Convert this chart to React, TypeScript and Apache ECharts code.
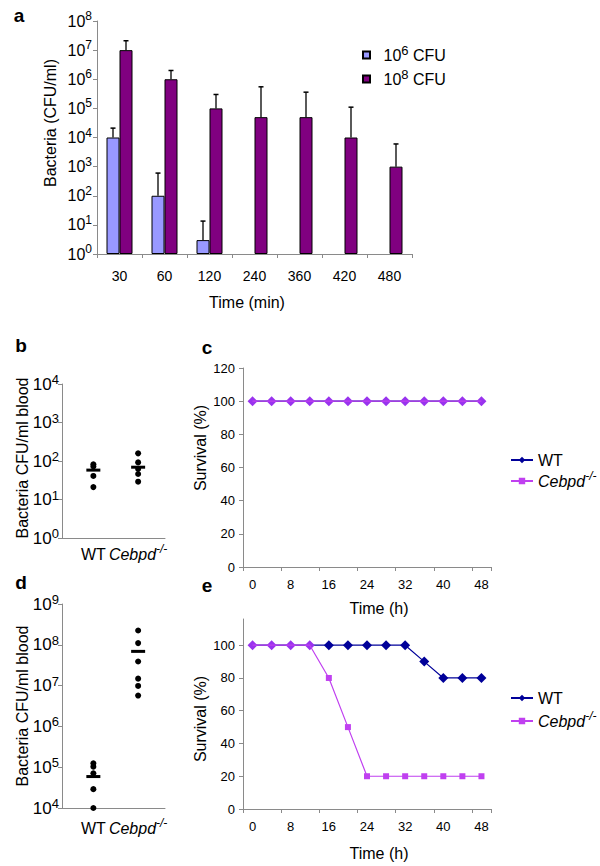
import React, { useEffect, useRef } from 'react';
import * as echarts from 'echarts';

const FONT = '"Liberation Sans", Arial, sans-serif';

// ---------- Panel a ----------
const timesMin = ['30', '60', '120', '240', '360', '420', '480'];
const cfu6Mean = [1e4, 100, 3, null, null, null, null];
const cfu6Upper = [2.1e4, 600, 13.5, null, null, null, null];
const cfu8Mean = [1e7, 1e6, 1e5, 5e4, 5e4, 1e4, 1e3];
const cfu8Upper = [2.1e7, 2e6, 3e5, 5.5e5, 3.6e5, 1.1e5, 6e3];
const seriesNamesA = ['10^6 CFU', '10^8 CFU'];

// ---------- Panels b & d ----------
const groups = ['WT', 'Cebpd-/-'];
const bWT = [82, 72, 41, 21];
const bKO = [158, 92, 62, 46, 29];
const bMeans = [58, 69];
const dWT = [1.25e5, 1.03e5, 7.1e4, 2.9e4, 1e4];
const dKO = [2.24e8, 1.1e8, 3.9e7, 1.48e7, 9.8e6, 5.7e6];
const dMeans = [5.9e4, 6.9e7];

// ---------- Panels c & e ----------
const timesH = ['0', '4', '8', '12', '16', '20', '24', '28', '32', '36', '40', '44', '48'];
const cWT = [100, 100, 100, 100, 100, 100, 100, 100, 100, 100, 100, 100, 100];
const cKO = [100, 100, 100, 100, 100, 100, 100, 100, 100, 100, 100, 100, 100];
const eWT = [100, 100, 100, 100, 100, 100, 100, 100, 100, 90, 80, 80, 80];
const eKO = [100, 100, 100, 100, 80, 50, 20, 20, 20, 20, 20, 20, 20];
const survivalTicks = [0, 20, 40, 60, 80, 100];

const BLUE = '#9999FF';
const PURPLE = '#800080';
const NAVY = '#000099';
const KO_COLOR = '#C040F0';
const OVERLAP = '#9933EE';
const AXIS_GRAY = '#8a8a8a';
const BAR_W = 13;

const richSup = (base: number, sup: number) => ({
  b: { fontSize: base, lineHeight: 22, fontFamily: FONT, color: '#000' },
  s: { fontSize: sup, lineHeight: sup, verticalAlign: 'top', fontFamily: FONT, color: '#000' },
  w: { fontSize: 16, lineHeight: 22, fontFamily: FONT, color: '#000' },
  i: { fontSize: 16, lineHeight: 22, fontStyle: 'italic', fontFamily: FONT, color: '#000' },
  si: { fontSize: 12, lineHeight: 12, verticalAlign: 'top', fontStyle: 'italic', fontFamily: FONT, color: '#000' },
});

const powLabel = (v: number) => `{b|10}{s|${Math.round(Math.log10(v))}}`;
const groupLabel = (name: string) => (name === 'WT' ? '{w|WT}' : '{i|Cebpd}{si|-/-}');

const errorBarRenderer = (offset: number) => (params: any, api: any) => {
  const x = api.value(0);
  const p1 = api.coord([x, api.value(1)]);
  const p2 = api.coord([x, api.value(2)]);
  const cx = p1[0] + offset;
  return {
    type: 'group',
    children: [
      { type: 'line', shape: { x1: cx, y1: p1[1], x2: cx, y2: p2[1] }, style: { stroke: '#000', lineWidth: 1.3 } },
      { type: 'line', shape: { x1: cx - 2.5, y1: p2[1], x2: cx + 2.5, y2: p2[1] }, style: { stroke: '#000', lineWidth: 1.5 } },
    ],
  };
};

const errData = (means: (number | null)[], uppers: (number | null)[]) =>
  means
    .map((m, i) => (m == null || uppers[i] == null ? null : [i, m, uppers[i]]))
    .filter((d) => d !== null);

const axisLine = { show: true, lineStyle: { color: AXIS_GRAY, width: 1 } };
const axisTick = { show: true, length: 4, lineStyle: { color: AXIS_GRAY } };

const survivalSeries = (wt: number[], ko: number[], xi: number) => {
  const wtData = wt.map((v, i) => (v === ko[i] ? { value: v, itemStyle: { color: OVERLAP } } : v));
  const koData = ko.map((v, i) => (v === wt[i] ? { value: v, symbol: 'none' } : v));
  return [
    {
      name: 'WT',
      type: 'line',
      xAxisIndex: xi,
      yAxisIndex: xi,
      data: wtData,
      symbol: 'diamond',
      symbolSize: 10,
      itemStyle: { color: NAVY },
      lineStyle: { color: NAVY, width: 1.2 },
      z: 2,
    },
    {
      name: 'Cebpd-/-',
      type: 'line',
      xAxisIndex: xi,
      yAxisIndex: xi,
      data: koData,
      symbol: 'rect',
      symbolSize: 6,
      itemStyle: { color: KO_COLOR },
      lineStyle: { color: KO_COLOR, width: 1.2 },
      z: 3,
    },
  ];
};

const scatterSeries = (wt: number[], ko: number[], means: number[], xi: number) => [
  {
    type: 'scatter',
    xAxisIndex: xi,
    yAxisIndex: xi,
    data: [...wt.map((v) => [1, v]), ...ko.map((v) => [2, v])],
    symbol: 'circle',
    symbolSize: 6,
    itemStyle: { color: '#000', opacity: 1 },
  },
  {
    type: 'scatter',
    xAxisIndex: xi,
    yAxisIndex: xi,
    data: means.map((v, i) => [i + 1, v]),
    symbol: 'rect',
    symbolSize: [14, 3],
    itemStyle: { color: '#000', opacity: 1 },
    z: 3,
  },
];

const groupXAxis = (gridIndex: number, margin: number) => ({
  type: 'value',
  gridIndex,
  min: 0.3,
  max: 2.6,
  axisLine,
  axisTick: { show: false },
  splitLine: { show: false },
  axisLabel: {
    customValues: [1, 2],
    margin,
    formatter: (v: number) => groupLabel(groups[Math.round(v) - 1]),
    rich: richSup(16, 12),
  },
});

const logYAxis = (gridIndex: number, min: number, max: number, base: number, sup: number, margin: number, split: number) => ({
  type: 'log',
  logBase: 10,
  gridIndex,
  min,
  max,
  splitNumber: split,
  axisLine,
  axisTick,
  splitLine: { show: false },
  axisLabel: { formatter: powLabel, rich: richSup(base, sup), margin },
});

const timeXAxis = (gridIndex: number) => ({
  type: 'category',
  gridIndex,
  data: timesH,
  boundaryGap: true,
  axisLine,
  axisTick,
  splitLine: { show: false },
  axisLabel: { interval: 1, fontSize: 13, color: '#000', fontFamily: FONT, margin: 11 },
});

const labelText = (text: string, x: number, y: number, size: number, rotate = false, bold = false) => ({
  type: 'text',
  x,
  y,
  rotation: rotate ? Math.PI / 2 : 0,
  style: {
    text,
    fill: '#000',
    fontSize: size,
    fontWeight: bold ? 'bold' : 'normal',
    fontFamily: FONT,
    align: 'center',
    verticalAlign: 'middle',
  },
});

export default function App() {
  const ref = useRef<HTMLDivElement>(null);
  useEffect(() => {
    if (!ref.current) return;
    const chart = echarts.init(ref.current, null, { renderer: 'svg' });
    const option: any = {
      animation: false,
      backgroundColor: '#fff',
      textStyle: { fontFamily: FONT },
      grid: [
        { left: 97, top: 21, width: 315, height: 233, containLabel: false, outerBoundsMode: 'none' },
        { left: 62, top: 384, width: 103, height: 154, containLabel: false, outerBoundsMode: 'none' },
        { left: 243, top: 368, width: 248, height: 199, containLabel: false, outerBoundsMode: 'none' },
        { left: 62, top: 604, width: 103, height: 204, containLabel: false, outerBoundsMode: 'none' },
        { left: 243, top: 619, width: 248, height: 190, containLabel: false, outerBoundsMode: 'none' },
      ],
      xAxis: [
        {
          type: 'category',
          gridIndex: 0,
          data: timesMin,
          boundaryGap: true,
          axisLine,
          axisTick,
          splitLine: { show: false },
          axisLabel: { fontSize: 14, color: '#000', fontFamily: FONT, margin: 15 },
        },
        groupXAxis(1, 5),
        timeXAxis(2),
        groupXAxis(3, 9),
        timeXAxis(4),
      ],
      yAxis: [
        logYAxis(0, 1, 1e8, 16, 12, 5, 8),
        logYAxis(1, 1, 1e4, 17, 13, 3, 4),
        {
          type: 'value',
          gridIndex: 2,
          min: 0,
          max: 120,
          interval: 20,
          axisLine,
          axisTick,
          splitLine: { show: false },
          axisLabel: { fontSize: 13, color: '#000', fontFamily: FONT, margin: 8 },
        },
        logYAxis(3, 1e4, 1e9, 17, 13, 3, 5),
        {
          type: 'value',
          gridIndex: 4,
          min: 0,
          max: 116,
          axisLine,
          axisTick: { ...axisTick, customValues: survivalTicks },
          splitLine: { show: false },
          axisLabel: { fontSize: 13, color: '#000', fontFamily: FONT, margin: 8, customValues: survivalTicks },
        },
      ],
      legend: [
        {
          data: seriesNamesA,
          left: 357,
          top: 39,
          orient: 'vertical',
          itemWidth: 24,
          itemHeight: 7,
          itemGap: 5,
          icon: 'path://M0,0L10,0L10,10L0,10Z',
          formatter: (n: string) => `{b|10}{s|${n === seriesNamesA[0] ? 6 : 8}}{b| CFU}`,
          textStyle: { rich: richSup(16, 13) },
          selectedMode: false,
        },
        {
          data: ['WT', 'Cebpd-/-'],
          left: 505,
          top: 447,
          orient: 'vertical',
          itemWidth: 22,
          itemHeight: 8,
          itemGap: 2,
          formatter: (n: string) => groupLabel(n),
          textStyle: { rich: richSup(16, 12) },
          selectedMode: false,
        },
        {
          data: ['WT', 'Cebpd-/-'],
          left: 505,
          top: 685,
          orient: 'vertical',
          itemWidth: 22,
          itemHeight: 8,
          itemGap: 4,
          formatter: (n: string) => groupLabel(n),
          textStyle: { rich: richSup(16, 12) },
          selectedMode: false,
        },
      ],
      series: [
        {
          name: seriesNamesA[0],
          type: 'bar',
          xAxisIndex: 0,
          yAxisIndex: 0,
          data: cfu6Mean.map((v) => (v == null ? '-' : v)),
          barWidth: BAR_W,
          barGap: '0%',
          itemStyle: { color: BLUE, borderColor: '#000', borderWidth: 1 },
        },
        {
          name: seriesNamesA[1],
          type: 'bar',
          xAxisIndex: 0,
          yAxisIndex: 0,
          data: cfu8Mean,
          barWidth: BAR_W,
          barGap: '0%',
          itemStyle: { color: PURPLE, borderColor: '#000', borderWidth: 1 },
        },
        {
          type: 'custom',
          xAxisIndex: 0,
          yAxisIndex: 0,
          renderItem: errorBarRenderer(-BAR_W / 2),
          data: errData(cfu6Mean, cfu6Upper),
          encode: { x: 0, y: [1, 2] },
          z: 5,
        },
        {
          type: 'custom',
          xAxisIndex: 0,
          yAxisIndex: 0,
          renderItem: errorBarRenderer(BAR_W / 2),
          data: errData(cfu8Mean, cfu8Upper),
          encode: { x: 0, y: [1, 2] },
          z: 5,
        },
        ...scatterSeries(bWT, bKO, bMeans, 1),
        ...survivalSeries(cWT, cKO, 2),
        ...scatterSeries(dWT, dKO, dMeans, 3),
        ...survivalSeries(eWT, eKO, 4),
      ],
      graphic: [
        labelText('a', 19, 15, 19, false, true),
        labelText('b', 21, 345, 19, false, true),
        labelText('c', 207, 347, 19, false, true),
        labelText('d', 21, 582, 19, false, true),
        labelText('e', 207, 585, 19, false, true),
        labelText('Bacteria (CFU/ml)', 50, 123, 16, true),
        labelText('Time (min)', 247, 302, 16),
        labelText('Bacteria CFU/ml blood', 22, 458, 16, true),
        labelText('Bacteria CFU/ml blood', 22, 706, 16, true),
        labelText('Survival (%)', 200, 448, 16, true),
        labelText('Survival (%)', 200, 719, 16, true),
        labelText('Time (h)', 379, 608, 16),
        labelText('Time (h)', 379, 853, 16),
      ],
    };
    chart.setOption(option);
    return () => chart.dispose();
  }, []);
  return (
    <div
      ref={ref}
      style={{ position: 'absolute', left: 0, top: 0, width: 600, height: 866, background: '#fff' }}
    />
  );
}
